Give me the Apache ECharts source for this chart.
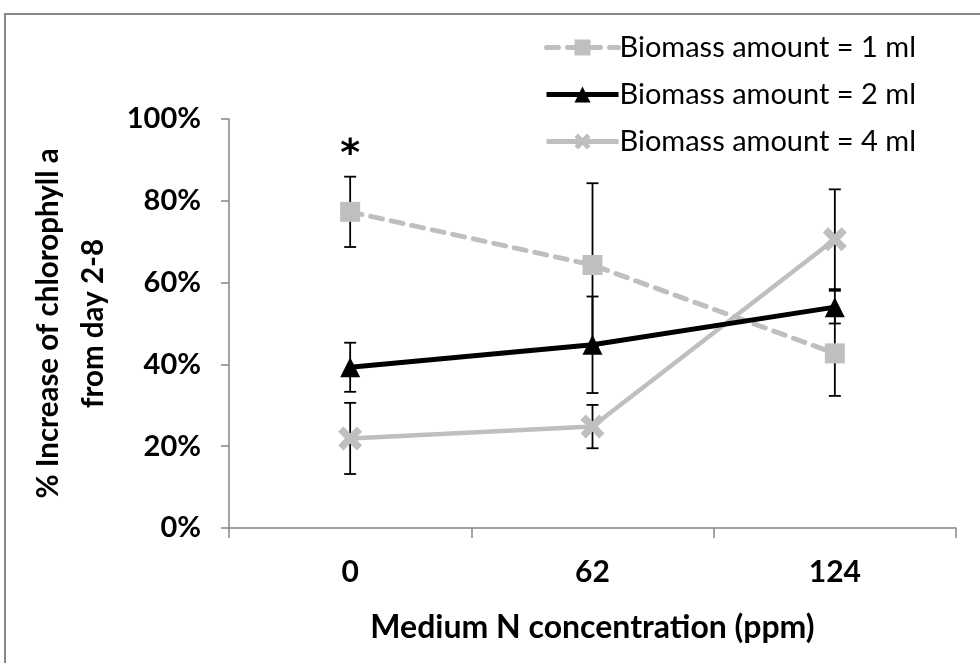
<!DOCTYPE html>
<html>
<head>
<meta charset="utf-8">
<script src="https://cdn.jsdelivr.net/npm/echarts@6/dist/echarts.min.js"></script>
<style>
html,body{margin:0;padding:0;background:#fff;}
#chart{width:980px;height:663px;}
</style>
</head>
<body>
<div id="chart"></div>
<script>
const categories = ['0', '62', '124'];
const seriesNames = ['Biomass amount = 1 ml', 'Biomass amount = 2 ml', 'Biomass amount = 4 ml'];
const values1ml = [77.3, 64.3, 42.7];
const values2ml = [39.3, 44.8, 54.0];
const values4ml = [21.9, 24.8, 70.6];
const err1ml = [8.6, 20.0, 10.4];
const err2ml = [6.0, 11.8, 4.0];
const err4ml = [8.7, 5.3, 12.2];
const significance1ml = ['*', '', ''];
const yTicks = [0, 20, 40, 60, 80, 100];

const FONT = 'Lato';
const GRAY = '#bfbfbf';

function errData(vals, errs, marks) {
  return vals.map((v, i) => [i, v - errs[i], v + errs[i], marks ? marks[i] : '']);
}

function renderErr(params, api) {
  const lo = api.coord([api.value(0), api.value(1)]);
  const hi = api.coord([api.value(0), api.value(2)]);
  const cap = 6;
  const style = { stroke: '#000', lineWidth: 1.8 };
  const children = [
    { type: 'line', shape: { x1: lo[0], y1: lo[1], x2: hi[0], y2: hi[1] }, style },
    { type: 'line', shape: { x1: hi[0] - cap, y1: hi[1], x2: hi[0] + cap, y2: hi[1] }, style },
    { type: 'line', shape: { x1: lo[0] - cap, y1: lo[1], x2: lo[0] + cap, y2: lo[1] }, style }
  ];
  const mark = api.value(3);
  if (mark) {
    children.push({
      type: 'text',
      style: { text: mark, x: hi[0], y: hi[1] - 22, align: 'center', verticalAlign: 'middle',
        fontFamily: 'DejaVu Sans', fontWeight: 'bold', fontSize: 38, fill: '#000' }
    });
  }
  return { type: 'group', children };
}

const xPath = 'path://M0,2.2 L2.2,0 L5,2.8 L7.8,0 L10,2.2 L7.2,5 L10,7.8 L7.8,10 L5,7.2 L2.2,10 L0,7.8 L2.8,5 Z';

const chart = echarts.init(document.getElementById('chart'));
chart.setOption({
  animation: false,
  backgroundColor: '#fff',
  graphic: [{
    type: 'polyline',
    shape: { points: [[5, 663], [5, 14], [980, 14]] },
    style: { stroke: '#878787', lineWidth: 2, fill: null },
    silent: true
  }],
  grid: { left: 229, right: 24, top: 119, bottom: 135, outerBoundsMode: 'none', containLabel: false },
  legend: {
    data: seriesNames,
    orient: 'vertical',
    left: 539,
    top: 28,
    itemWidth: 72,
    itemHeight: 20,
    itemGap: 18,
    lineStyle: { width: 5 },
    textStyle: { fontFamily: FONT, fontSize: 29, color: '#000', padding: [0, 0, 0, -4] }
  },
  xAxis: {
    type: 'category',
    data: categories,
    name: 'Medium N concentration (ppm)',
    nameLocation: 'middle',
    nameGap: 84,
    nameTextStyle: { fontFamily: FONT, fontWeight: 'bold', fontSize: 32, color: '#000' },
    axisLine: { lineStyle: { color: '#868686', width: 1.5 } },
    axisTick: { show: true, inside: false, length: 10, lineStyle: { color: '#868686', width: 1.5 } },
    axisLabel: { margin: 29, fontFamily: FONT, fontWeight: 'bold', fontSize: 30, color: '#000' },
    splitLine: { show: false }
  },
  yAxis: {
    type: 'value',
    min: yTicks[0],
    max: yTicks[yTicks.length - 1],
    interval: yTicks[1] - yTicks[0],
    name: '% Increase of chlorophyll a\nfrom day 2-8',
    nameLocation: 'middle',
    nameGap: 104,
    nameRotate: 90,
    nameTextStyle: { fontFamily: FONT, fontWeight: 'bold', fontSize: 29.5, color: '#000', lineHeight: 45 },
    axisLine: { show: true, lineStyle: { color: '#868686', width: 1.5 } },
    axisTick: { show: true, inside: false, length: 8, lineStyle: { color: '#868686', width: 1.5 } },
    axisLabel: { margin: 28, fontFamily: FONT, fontWeight: 'bold', fontSize: 29, color: '#000', formatter: '{value}%' },
    splitLine: { show: false }
  },
  series: [
    { type: 'custom', name: 'err1', data: errData(values1ml, err1ml, significance1ml), renderItem: renderErr, encode: { x: 0, y: [1, 2] }, z: 1, silent: true },
    { type: 'custom', name: 'err2', data: errData(values2ml, err2ml), renderItem: renderErr, encode: { x: 0, y: [1, 2] }, z: 1, silent: true },
    { type: 'custom', name: 'err4', data: errData(values4ml, err4ml), renderItem: renderErr, encode: { x: 0, y: [1, 2] }, z: 1, silent: true },
    {
      type: 'line', name: seriesNames[0], data: values1ml, z: 3,
      symbol: 'rect', symbolSize: 20,
      itemStyle: { color: GRAY },
      lineStyle: { color: GRAY, width: 5, type: [12, 9], cap: 'round' }
    },
    {
      type: 'line', name: seriesNames[1], data: values2ml, z: 4,
      symbol: 'triangle', symbolSize: 20,
      itemStyle: { color: '#000' },
      lineStyle: { color: '#000', width: 5 }
    },
    {
      type: 'line', name: seriesNames[2], data: values4ml, z: 2,
      symbol: xPath, symbolSize: 24,
      itemStyle: { color: GRAY },
      lineStyle: { color: GRAY, width: 4.5 }
    }
  ]
});
</script>
</body>
</html>
